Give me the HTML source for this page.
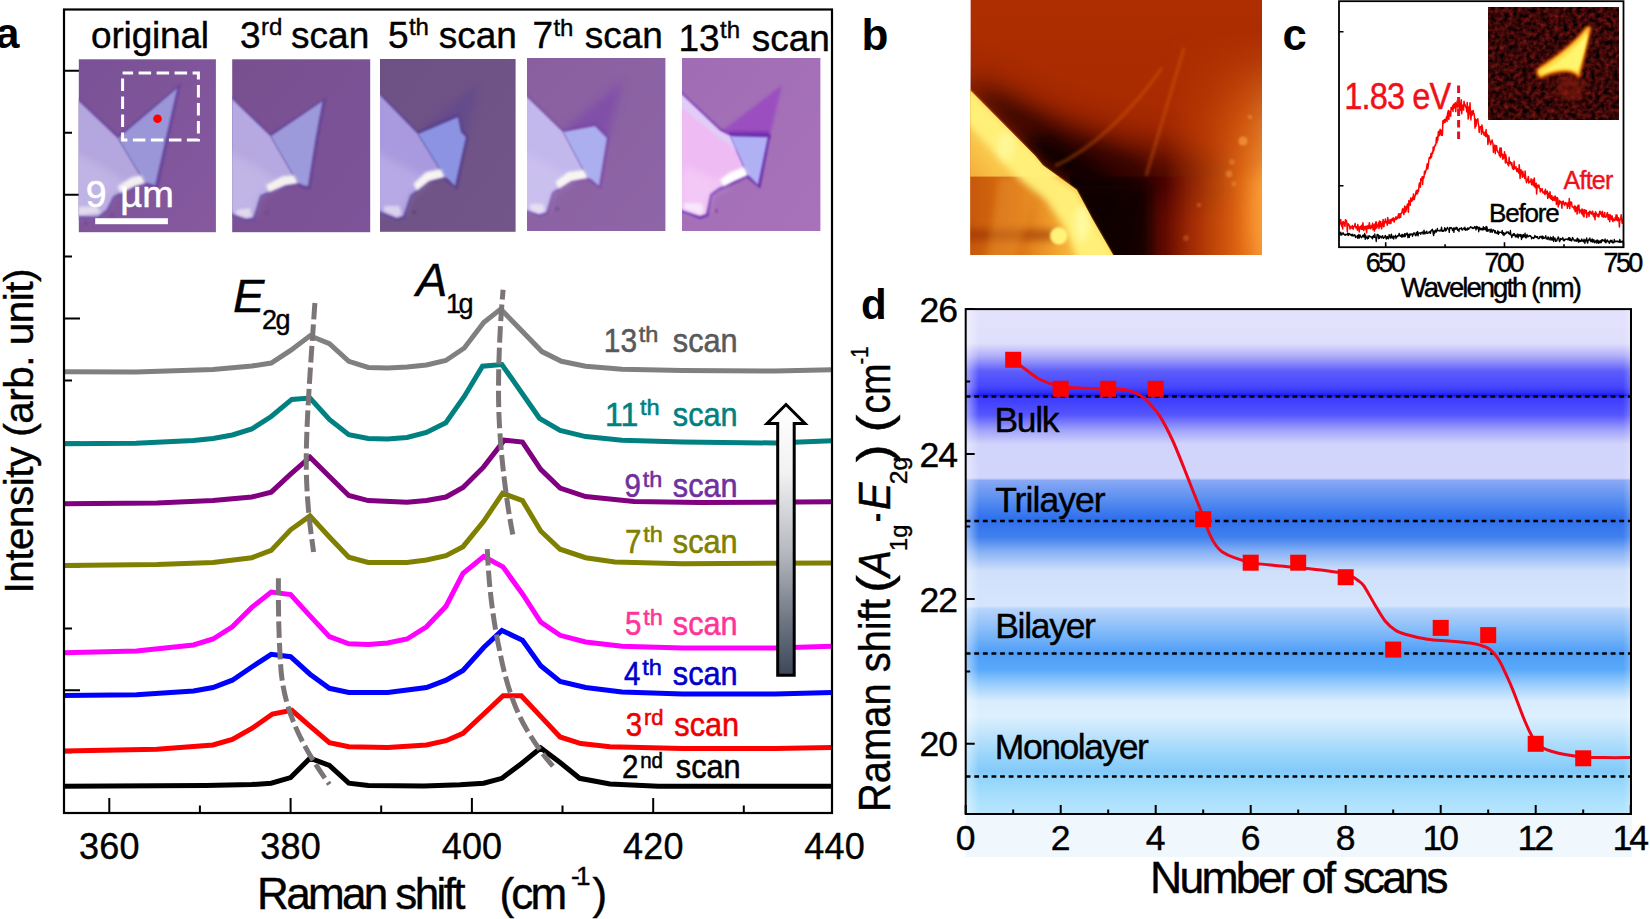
<!DOCTYPE html>
<html lang="en"><head><meta charset="utf-8"><title>Raman layer thinning figure</title>
<style>
html,body{margin:0;padding:0;background:#fff;}
body{width:1650px;height:919px;overflow:hidden;}
svg{display:block;font-family:"Liberation Sans", Arial, sans-serif;}
text{white-space:pre;}
</style></head><body>
<svg width="1650" height="919" viewBox="0 0 1650 919">
<defs>
<linearGradient id="arrG" x1="0" y1="404" x2="0" y2="676" gradientUnits="userSpaceOnUse">
<stop offset="0" stop-color="#ffffff"/><stop offset="0.25" stop-color="#f2f2f3"/><stop offset="0.55" stop-color="#b4b7be"/><stop offset="0.8" stop-color="#6e7582"/><stop offset="1" stop-color="#3a4658"/></linearGradient>
<filter id="blurI" x="-10%" y="-10%" width="120%" height="120%"><feGaussianBlur stdDeviation="0.9"/></filter>
<filter id="blurI2" x="-20%" y="-20%" width="140%" height="140%"><feGaussianBlur stdDeviation="1.6"/></filter>
<filter id="blurI3" x="-20%" y="-20%" width="140%" height="140%"><feGaussianBlur stdDeviation="4"/></filter>
<linearGradient id="afmBase" x1="0" y1="0" x2="0" y2="255" gradientUnits="userSpaceOnUse">
<stop offset="0" stop-color="#ae2e00"/><stop offset="0.35" stop-color="#a92b00"/><stop offset="0.7" stop-color="#a42800"/><stop offset="1" stop-color="#962200"/></linearGradient>
<linearGradient id="afmLow" x1="1070" y1="0" x2="1262" y2="0" gradientUnits="userSpaceOnUse">
<stop offset="0" stop-color="#100000" stop-opacity="0.95"/><stop offset="0.3" stop-color="#1e0100" stop-opacity="0.9"/><stop offset="0.5" stop-color="#4a0600" stop-opacity="0.7"/><stop offset="0.68" stop-color="#701000" stop-opacity="0.4"/><stop offset="0.85" stop-color="#8a2000" stop-opacity="0.1"/><stop offset="1" stop-color="#8a2000" stop-opacity="0"/></linearGradient>
<linearGradient id="afmGlow" x1="1165" y1="0" x2="1262" y2="0" gradientUnits="userSpaceOnUse">
<stop offset="0" stop-color="#d85408" stop-opacity="0"/><stop offset="0.45" stop-color="#dc5a0a" stop-opacity="0.55"/><stop offset="0.8" stop-color="#ea7418" stop-opacity="0.92"/><stop offset="1" stop-color="#f49232" stop-opacity="1"/></linearGradient>
<linearGradient id="mGlowG" x1="0" y1="30" x2="0" y2="265" gradientUnits="userSpaceOnUse">
<stop offset="0" stop-color="#000"/><stop offset="0.12" stop-color="#222"/><stop offset="0.4" stop-color="#aaa"/><stop offset="0.65" stop-color="#fff"/><stop offset="1" stop-color="#fff"/></linearGradient>
<mask id="mGlow" maskUnits="userSpaceOnUse" x="1150" y="30" width="120" height="235"><rect x="1150" y="30" width="120" height="235" fill="url(#mGlowG)"/></mask>
<linearGradient id="afmFlU" x1="1040" y1="120" x2="965" y2="180" gradientUnits="userSpaceOnUse">
<stop offset="0" stop-color="#ffea74"/><stop offset="0.5" stop-color="#fdd458"/><stop offset="1" stop-color="#f2a834"/></linearGradient>
<linearGradient id="afmFlL" x1="1100" y1="0" x2="965" y2="0" gradientUnits="userSpaceOnUse">
<stop offset="0" stop-color="#ffd858"/><stop offset="0.3" stop-color="#f4a832"/><stop offset="0.6" stop-color="#dc7416"/><stop offset="1" stop-color="#c4540c"/></linearGradient>
<filter id="bB05" filterUnits="userSpaceOnUse" x="900" y="-60" width="430" height="380"><feGaussianBlur stdDeviation="0.7"/></filter>
<filter id="bB1" filterUnits="userSpaceOnUse" x="900" y="-60" width="430" height="380"><feGaussianBlur stdDeviation="1.2"/></filter>
<filter id="bB2" filterUnits="userSpaceOnUse" x="900" y="-60" width="430" height="380"><feGaussianBlur stdDeviation="1.8"/></filter>
<filter id="bB3" filterUnits="userSpaceOnUse" x="900" y="-60" width="430" height="380"><feGaussianBlur stdDeviation="3.5"/></filter>
<filter id="bB6" filterUnits="userSpaceOnUse" x="900" y="-60" width="430" height="380"><feGaussianBlur stdDeviation="6"/></filter>
<filter id="bB10" filterUnits="userSpaceOnUse" x="900" y="-60" width="430" height="380"><feGaussianBlur stdDeviation="9"/></filter>
<filter id="bB20" filterUnits="userSpaceOnUse" x="900" y="-60" width="430" height="380"><feGaussianBlur stdDeviation="18"/></filter>
<filter id="noiseC" x="0" y="0" width="100%" height="100%" color-interpolation-filters="sRGB"><feTurbulence type="fractalNoise" baseFrequency="0.22" numOctaves="2" seed="5" result="n"/>
<feColorMatrix in="n" type="matrix" values="0.75 0 0 0 -0.15  0.14 0 0 0 -0.04  0.12 0 0 0 -0.03  0 0 0 0 1"/></filter>
<filter id="bC2" x="-40%" y="-40%" width="180%" height="180%"><feGaussianBlur stdDeviation="1.8"/></filter>
<filter id="bC1" x="-20%" y="-20%" width="140%" height="140%"><feGaussianBlur stdDeviation="0.9"/></filter>
<filter id="bC3" x="-40%" y="-40%" width="180%" height="180%"><feGaussianBlur stdDeviation="3"/></filter>
<linearGradient id="bgD" x1="0" y1="309.1" x2="0" y2="814" gradientUnits="userSpaceOnUse"><stop offset="0.0000" stop-color="#e4e2fb"/><stop offset="0.0671" stop-color="#e0dffb"/><stop offset="0.0929" stop-color="#b0aef9"/><stop offset="0.1226" stop-color="#5e5efb"/><stop offset="0.1543" stop-color="#4646fe"/><stop offset="0.1652" stop-color="#3030f6"/><stop offset="0.1711" stop-color="#1a1ae6"/><stop offset="0.1771" stop-color="#3c3cfd"/><stop offset="0.2097" stop-color="#5656fd"/><stop offset="0.2395" stop-color="#a0a2f9"/><stop offset="0.2672" stop-color="#d0d3fb"/><stop offset="0.3345" stop-color="#d2d6fb"/><stop offset="0.3395" stop-color="#88a8f4"/><stop offset="0.3781" stop-color="#588ef0"/><stop offset="0.4157" stop-color="#2e6fec"/><stop offset="0.4514" stop-color="#4080ee"/><stop offset="0.4811" stop-color="#88b2f5"/><stop offset="0.5187" stop-color="#d0e0fb"/><stop offset="0.5880" stop-color="#d4e5fc"/><stop offset="0.5940" stop-color="#b6d4fb"/><stop offset="0.6356" stop-color="#86bcf9"/><stop offset="0.6811" stop-color="#4e9ef8"/><stop offset="0.7128" stop-color="#58a8fa"/><stop offset="0.7445" stop-color="#9ccffc"/><stop offset="0.7762" stop-color="#d8ecfe"/><stop offset="0.8059" stop-color="#ddf0fe"/><stop offset="0.8435" stop-color="#bee3fc"/><stop offset="0.8831" stop-color="#9ad5fb"/><stop offset="0.9168" stop-color="#82caf9"/><stop offset="0.9307" stop-color="#94d5fb"/><stop offset="0.9624" stop-color="#a6defc"/><stop offset="1.0000" stop-color="#b8e6fe"/></linearGradient><linearGradient id="edgeD" x1="965.7" y1="0" x2="1631" y2="0" gradientUnits="userSpaceOnUse">
<stop offset="0" stop-color="#fff" stop-opacity="0.42"/><stop offset="0.006" stop-color="#fff" stop-opacity="0.34"/><stop offset="0.02" stop-color="#fff" stop-opacity="0"/><stop offset="0.988" stop-color="#fff" stop-opacity="0"/><stop offset="1" stop-color="#fff" stop-opacity="0.22"/></linearGradient>
</defs>
<rect x="0" y="0" width="1650" height="919" fill="#fff"/>
<path d="M64,70.8h16 M64,132.8h8 M64,194.7h16 M64,256.6h8 M64,318.6h16 M64,380.6h8 M64,442.5h16 M64,504.5h8 M64,566.4h16 M64,628.4h8 M64,690.3h16 M64,752.2h8 M109.3,813v-15 M199.9,813v-7.5 M290.6,813v-15 M381.2,813v-7.5 M471.9,813v-15 M562.5,813v-7.5 M653.2,813v-15 M743.8,813v-7.5" stroke="#000" stroke-width="2" fill="none"/>
<clipPath id="clipA"><rect x="64" y="9.5" width="768" height="803.5"/></clipPath>
<g clip-path="url(#clipA)" fill="none" stroke-width="5" stroke-linejoin="miter" stroke-miterlimit="6">
<polyline stroke="#000000" points="63.0,786.3 205.6,785.6 251.8,784.6 271.2,783.2 290.6,777.6 310.0,758.2 329.4,765.4 348.8,783.2 368.2,785.6 424.0,786.0 460.0,784.8 483.7,783.2 501.9,778.3 521.3,763.7 540.7,748.0 560.1,762.5 579.6,778.3 610.0,783.9 658.4,786.3 833.0,786.3"/>
<polyline stroke="#ff0000" points="63.0,750.9 157.0,749.2 213.0,745.0 232.3,739.5 251.8,728.5 272.4,714.0 291.8,710.3 310.0,726.1 329.4,742.6 348.8,746.7 387.7,747.5 426.5,745.0 446.0,740.7 463.0,733.4 483.7,714.0 503.1,695.8 521.3,695.8 540.7,716.4 560.1,737.0 580.8,743.6 610.0,746.7 682.7,748.4 775.0,748.6 833.0,747.5"/>
<polyline stroke="#0000ff" points="63.0,695.5 136.5,694.8 193.5,691.0 213.0,687.5 232.3,680.2 251.8,667.0 271.2,654.3 290.6,656.7 310.0,674.2 329.4,688.3 348.8,692.4 387.7,692.4 426.5,687.5 446.0,680.2 463.0,670.5 483.7,647.5 501.9,630.5 522.5,640.2 540.7,665.7 560.1,681.5 585.6,687.5 622.0,691.9 682.7,694.0 775.0,694.0 833.0,692.6"/>
<polyline stroke="#ff00ff" points="63.0,652.8 136.5,651.0 193.5,645.0 213.0,639.0 232.3,626.8 251.8,607.4 271.2,592.1 290.6,594.6 310.0,615.9 329.4,636.6 348.8,643.8 368.2,644.6 387.6,643.0 407.0,639.0 426.5,626.8 446.0,606.2 463.0,573.4 483.7,556.5 503.0,566.9 522.5,594.0 540.7,622.0 560.1,635.3 585.6,642.0 622.0,646.3 682.7,648.0 775.0,648.0 833.0,646.3"/>
<polyline stroke="#808000" points="63.0,565.4 157.0,564.5 213.0,562.5 251.8,557.7 271.2,550.4 290.6,529.8 310.0,515.9 329.4,537.0 348.8,557.2 368.2,562.5 407.0,562.5 426.5,560.0 446.0,555.7 463.0,546.7 483.7,521.3 502.6,493.3 522.5,500.6 540.7,531.0 560.1,549.2 585.6,557.7 614.8,562.0 682.7,563.7 833.0,563.0"/>
<polyline stroke="#800080" points="63.0,503.8 157.0,503.0 213.0,500.6 251.8,497.0 271.2,492.2 290.6,474.2 310.0,457.2 329.4,476.6 348.8,495.5 368.2,500.6 407.0,502.3 426.5,500.5 446.0,497.0 463.0,487.5 483.7,466.9 504.3,440.2 522.5,442.1 540.7,469.3 560.1,488.0 585.6,496.5 634.0,501.4 700.0,502.5 833.0,501.8"/>
<polyline stroke="#008080" points="63.0,443.8 136.0,443.2 193.5,440.5 213.0,438.5 232.4,435.0 251.8,429.0 271.2,416.5 291.8,399.4 310.0,398.0 329.4,419.5 348.8,434.6 368.2,438.5 387.6,439.0 407.0,437.5 426.4,432.4 445.8,422.7 464.3,396.5 482.5,366.2 501.9,364.5 539.5,418.3 560.1,430.5 585.6,436.6 622.0,440.2 682.7,442.1 775.0,443.0 833.0,440.7"/>
<polyline stroke="#808080" points="63.0,371.7 136.0,372.0 213.0,369.5 251.8,366.0 271.2,363.0 290.6,350.4 310.0,335.8 329.4,343.6 348.8,361.3 368.2,367.4 387.6,368.0 407.0,367.0 426.5,365.0 445.8,360.5 464.3,348.0 483.7,322.5 500.7,309.1 541.9,351.6 561.4,361.3 585.6,366.2 622.0,369.3 682.7,370.5 775.0,371.0 833.0,369.8"/>
</g>
<g fill="none" stroke="#7b7577" stroke-width="5" stroke-dasharray="16.5 5">
<path d="M314.9,303 C311,360 305.5,430 306.3,470 C307,505 310.5,530 313.6,552"/>
<path d="M278.4,578.3 C278.2,610 278.8,640 281,670 C284,705 297,740 329.4,784.4"/>
<path stroke-dashoffset="6.5" d="M503.1,289.7 C499.5,330 497.8,375 498.8,410 C500,450 506,500 512.8,534.6"/>
<path d="M487.3,549.2 C488.5,580 492,615 499.5,650 C506,685 516,712 527,730 C536,745 544,756 552.9,766.2"/>
</g>
<rect x="64" y="9.5" width="768" height="803.5" fill="none" stroke="#000" stroke-width="2.2"/>
<text x="109.3" y="858.5" font-size="36" fill="#000" text-anchor="middle" textLength="60.5" lengthAdjust="spacing" stroke="#000" stroke-width="0.4" >360</text>
<text x="290.6" y="858.5" font-size="36" fill="#000" text-anchor="middle" textLength="60.5" lengthAdjust="spacing" stroke="#000" stroke-width="0.4" >380</text>
<text x="471.9" y="858.5" font-size="36" fill="#000" text-anchor="middle" textLength="60.5" lengthAdjust="spacing" stroke="#000" stroke-width="0.4" >400</text>
<text x="653.2" y="858.5" font-size="36" fill="#000" text-anchor="middle" textLength="60.5" lengthAdjust="spacing" stroke="#000" stroke-width="0.4" >420</text>
<text x="834.5" y="858.5" font-size="36" fill="#000" text-anchor="middle" textLength="60.5" lengthAdjust="spacing" stroke="#000" stroke-width="0.4" >440</text>
<text x="257.0" y="908.8" font-size="44" fill="#000" textLength="208.5" lengthAdjust="spacing" stroke="#000" stroke-width="0.4" >Raman shift</text>
<text x="499.6" y="908.8" font-size="44" fill="#000" textLength="67.5" lengthAdjust="spacing" stroke="#000" stroke-width="0.4" >(cm</text>
<text x="570.9" y="884.5" font-size="26" fill="#000" textLength="19.5" lengthAdjust="spacing" stroke="#000" stroke-width="0.4" >-1</text>
<text x="592.5" y="908.8" font-size="44" fill="#000" stroke="#000" stroke-width="0.4" >)</text>
<g transform="translate(33,593.5) rotate(-90)"><text x="0.0" y="0.0" font-size="40.5" fill="#000" textLength="325.0" lengthAdjust="spacing" stroke="#000" stroke-width="0.4" >Intensity (arb. unit)</text></g>
<text x="233.0" y="312.2" font-size="47" fill="#000" font-style="italic" stroke="#000" stroke-width="0.4" >E</text>
<text x="262.0" y="328.7" font-size="27" fill="#000" textLength="28.5" lengthAdjust="spacing" stroke="#000" stroke-width="0.4" >2g</text>
<text x="416.0" y="296.4" font-size="47" fill="#000" font-style="italic" stroke="#000" stroke-width="0.4" >A</text>
<text x="446.0" y="312.8" font-size="27" fill="#000" textLength="27.5" lengthAdjust="spacing" stroke="#000" stroke-width="0.4" >1g</text>
<text x="603.8" y="352.3" font-size="32.8" fill="#595959" textLength="33.2" lengthAdjust="spacingAndGlyphs" stroke="#595959" stroke-width="0.55">13</text>
<text x="638.8" y="341.9" font-size="22.5" fill="#595959" textLength="19.6" lengthAdjust="spacingAndGlyphs" stroke="#595959" stroke-width="0.55">th</text>
<text x="672.8" y="352.3" font-size="32.8" fill="#595959" textLength="64.8" lengthAdjust="spacingAndGlyphs" stroke="#595959" stroke-width="0.55">scan</text>
<text x="605.0" y="425.6" font-size="32.8" fill="#008080" textLength="33.2" lengthAdjust="spacingAndGlyphs" stroke="#008080" stroke-width="0.55">11</text>
<text x="640.0" y="415.2" font-size="22.5" fill="#008080" textLength="19.6" lengthAdjust="spacingAndGlyphs" stroke="#008080" stroke-width="0.55">th</text>
<text x="672.8" y="425.6" font-size="32.8" fill="#008080" textLength="64.8" lengthAdjust="spacingAndGlyphs" stroke="#008080" stroke-width="0.55">scan</text>
<text x="624.5" y="497.2" font-size="32.8" fill="#7030a0" textLength="16.4" lengthAdjust="spacingAndGlyphs" stroke="#7030a0" stroke-width="0.55">9</text>
<text x="642.7" y="486.8" font-size="22.5" fill="#7030a0" textLength="19.6" lengthAdjust="spacingAndGlyphs" stroke="#7030a0" stroke-width="0.55">th</text>
<text x="672.8" y="497.2" font-size="32.8" fill="#7030a0" textLength="64.8" lengthAdjust="spacingAndGlyphs" stroke="#7030a0" stroke-width="0.55">scan</text>
<text x="625.0" y="552.8" font-size="32.8" fill="#808000" textLength="16.4" lengthAdjust="spacingAndGlyphs" stroke="#808000" stroke-width="0.55">7</text>
<text x="643.2" y="542.4" font-size="22.5" fill="#808000" textLength="19.6" lengthAdjust="spacingAndGlyphs" stroke="#808000" stroke-width="0.55">th</text>
<text x="672.8" y="552.8" font-size="32.8" fill="#808000" textLength="64.8" lengthAdjust="spacingAndGlyphs" stroke="#808000" stroke-width="0.55">scan</text>
<text x="625.0" y="635.3" font-size="32.8" fill="#ff3399" textLength="16.4" lengthAdjust="spacingAndGlyphs" stroke="#ff3399" stroke-width="0.55">5</text>
<text x="643.2" y="624.9" font-size="22.5" fill="#ff3399" textLength="19.6" lengthAdjust="spacingAndGlyphs" stroke="#ff3399" stroke-width="0.55">th</text>
<text x="672.8" y="635.3" font-size="32.8" fill="#ff3399" textLength="64.8" lengthAdjust="spacingAndGlyphs" stroke="#ff3399" stroke-width="0.55">scan</text>
<text x="624.0" y="685.0" font-size="32.8" fill="#0000cd" textLength="16.4" lengthAdjust="spacingAndGlyphs" stroke="#0000cd" stroke-width="0.55">4</text>
<text x="642.2" y="674.6" font-size="22.5" fill="#0000cd" textLength="19.6" lengthAdjust="spacingAndGlyphs" stroke="#0000cd" stroke-width="0.55">th</text>
<text x="672.8" y="685.0" font-size="32.8" fill="#0000cd" textLength="64.8" lengthAdjust="spacingAndGlyphs" stroke="#0000cd" stroke-width="0.55">scan</text>
<text x="625.7" y="735.8" font-size="32.8" fill="#ee0000" textLength="16.4" lengthAdjust="spacingAndGlyphs" stroke="#ee0000" stroke-width="0.55">3</text>
<text x="643.9" y="725.4" font-size="22.5" fill="#ee0000" textLength="19.6" lengthAdjust="spacingAndGlyphs" stroke="#ee0000" stroke-width="0.55">rd</text>
<text x="674.3" y="735.8" font-size="32.8" fill="#ee0000" textLength="64.8" lengthAdjust="spacingAndGlyphs" stroke="#ee0000" stroke-width="0.55">scan</text>
<text x="622.0" y="778.3" font-size="32.8" fill="#000000" textLength="16.4" lengthAdjust="spacingAndGlyphs" stroke="#000000" stroke-width="0.55">2</text>
<text x="640.2" y="767.9" font-size="22.5" fill="#000000" textLength="22.8" lengthAdjust="spacingAndGlyphs" stroke="#000000" stroke-width="0.55">nd</text>
<text x="675.8" y="778.3" font-size="32.8" fill="#000000" textLength="64.8" lengthAdjust="spacingAndGlyphs" stroke="#000000" stroke-width="0.55">scan</text>
<path d="M786,404.5 L805,423.5 L794.2,423.5 L794.2,675.2 L777.7,675.2 L777.7,423.5 L767,423.5 Z" fill="url(#arrG)" stroke="#000" stroke-width="3" stroke-linejoin="miter"/>
<clipPath id="ci1"><rect x="78.8" y="59.3" width="137.10000000000002" height="172.89999999999998"/></clipPath>
<linearGradient id="bgI1" x1="0" y1="0" x2="1" y2="1"><stop offset="0" stop-color="#7a5196"/><stop offset="1" stop-color="#86599f"/></linearGradient>
<rect x="78.8" y="59.3" width="137.10000000000002" height="172.89999999999998" fill="url(#bgI1)"/>
<g clip-path="url(#ci1)">
<polygon points="70.0,91.0 118.0,135.5 181.0,83.0 158.0,188.5 144.0,185.5 136.0,188.0 115.0,198.5 108.5,212.0 98.5,219.5 70.0,218.5" fill="#62409a" opacity="0.8" filter="url(#blurI)" />
<polygon points="70.0,93.0 78.8,101.0 118.0,138.2 144.4,182.3 134.6,185.2 113.1,196.0 106.2,209.7 97.4,216.6 78.8,215.6 70.0,215.0" fill="#b4a6de" opacity="1" filter="url(#blurI)" />
<polygon points="70.0,150.0 100.0,165.0 130.0,184.0 113.0,195.0 106.0,209.0 97.0,216.0 70.0,215.0" fill="#c9bfea" opacity="0.55" filter="url(#blurI3)" />
<polygon points="118.0,138.2 177.3,87.9 155.2,185.2 144.4,182.3" fill="#9a96d8" opacity="1" filter="url(#blurI)" />
<polygon points="145.4,183.3 134.6,186.2 120.6,193.2 117.6,186.2 131.6,177.2 141.4,175.3" fill="#f6f3f2" opacity="0.95" filter="url(#blurI2)" />
<polygon points="78.0,207.0 96.0,206.0 101.0,213.0 78.0,215.5" fill="#eeeaf0" opacity="0.75" filter="url(#blurI2)" />
<polygon points="84.0,221.0 88.0,221.0 88.0,225.0 84.0,225.0" fill="#6a4590" opacity="0.5" filter="url(#blurI)" />
<polygon points="110.0,213.0 114.0,213.0 114.0,217.0 110.0,217.0" fill="#6a4590" opacity="0.5" filter="url(#blurI)" />

</g>
<clipPath id="ci2"><rect x="232.2" y="59.3" width="138.0" height="172.89999999999998"/></clipPath>
<linearGradient id="bgI2" x1="0" y1="0" x2="1" y2="1"><stop offset="0" stop-color="#78508f"/><stop offset="1" stop-color="#7d5399"/></linearGradient>
<rect x="232.2" y="59.3" width="138.0" height="172.89999999999998" fill="url(#bgI2)"/>
<g clip-path="url(#ci2)">
<polygon points="224.0,89.0 270.7,133.6 326.5,97.0 318.5,138.5 310.5,189.5 302.0,188.5 297.0,185.5 286.0,187.5 262.0,197.5 255.3,220.5 246.3,221.5 224.0,214.0" fill="#62409a" opacity="0.8" filter="url(#blurI)" />
<polygon points="224.0,91.0 232.2,99.0 270.7,136.3 297.2,182.3 285.4,184.3 260.0,195.0 253.1,217.6 246.3,218.5 232.2,213.6 224.0,211.0" fill="#b6a8e0" opacity="1" filter="url(#blurI)" />
<polygon points="224.0,150.0 255.0,165.0 282.0,184.0 260.0,195.0 253.0,217.0 232.0,213.0 224.0,211.0" fill="#cbc1ec" opacity="0.5" filter="url(#blurI3)" />
<polygon points="270.7,136.3 322.6,101.0 315.8,137.3 308.0,186.2 303.0,185.2 297.2,182.3" fill="#9c9adb" opacity="1" filter="url(#blurI)" />
<polygon points="298.2,183.3 285.4,185.3 268.9,192.3 265.9,185.3 282.4,176.3 294.2,175.3" fill="#f8f5f1" opacity="0.95" filter="url(#blurI2)" />
<polygon points="236.0,210.0 250.0,208.0 252.0,216.5 246.0,218.0 236.0,214.5" fill="#efeaf2" opacity="0.7" filter="url(#blurI2)" />
<polygon points="265.0,211.0 269.0,211.0 269.0,215.0 265.0,215.0" fill="#6a4590" opacity="0.5" filter="url(#blurI)" />

</g>
<clipPath id="ci3"><rect x="380" y="59" width="135.60000000000002" height="172.8"/></clipPath>
<linearGradient id="bgI3" x1="0" y1="0" x2="1" y2="1"><stop offset="0" stop-color="#6d5184"/><stop offset="1" stop-color="#725589"/></linearGradient>
<rect x="380" y="59" width="135.60000000000002" height="172.8" fill="url(#bgI3)"/>
<g clip-path="url(#ci3)">
<polygon points="418.0,132.0 479.0,82.0 466.0,138.0" fill="#5a4490" opacity="0.5" filter="url(#blurI3)" />
<polygon points="372.0,85.0 418.0,131.2 458.5,113.5 463.5,130.5 468.8,136.5 457.5,189.5 448.0,183.0 444.0,179.5 430.0,183.0 412.0,197.5 405.5,219.0 397.0,221.0 372.0,211.0" fill="#553c8c" opacity="0.8" filter="url(#blurI)" />
<polygon points="372.0,87.0 380.0,95.0 418.0,134.0 444.0,176.0 429.0,180.0 410.0,195.0 403.0,216.0 397.0,218.0 380.0,211.0 372.0,208.0" fill="#a999de" opacity="1" filter="url(#blurI)" />
<polygon points="372.0,150.0 402.0,165.0 430.0,180.0 410.0,195.0 403.0,216.0 380.0,211.0 372.0,208.0" fill="#c3b9ec" opacity="0.5" filter="url(#blurI3)" />
<polygon points="418.0,134.0 458.0,117.0 461.0,132.0 466.0,137.0 455.0,186.0 449.0,180.0 444.0,176.0" fill="#8b93e2" opacity="1" filter="url(#blurI)" />
<polygon points="445.0,177.0 429.0,181.0 416.6,190.8 413.6,183.8 426.0,172.0 441.0,169.0" fill="#faf7f2" opacity="0.97" filter="url(#blurI2)" />
<polygon points="384.0,206.0 399.0,206.0 402.0,214.0 397.0,217.0 384.0,211.5" fill="#ece6f2" opacity="0.7" filter="url(#blurI2)" />
<polygon points="412.0,210.0 416.0,210.0 416.0,214.0 412.0,214.0" fill="#594078" opacity="0.6" filter="url(#blurI)" />

</g>
<clipPath id="ci4"><rect x="527" y="58" width="138.39999999999998" height="173"/></clipPath>
<linearGradient id="bgI4" x1="0" y1="0" x2="1" y2="1"><stop offset="0" stop-color="#895fa0"/><stop offset="1" stop-color="#8e65a6"/></linearGradient>
<rect x="527" y="58" width="138.39999999999998" height="173" fill="url(#bgI4)"/>
<g clip-path="url(#ci4)">
<polygon points="563.0,131.0 623.0,80.0 607.5,139.0" fill="#7a44ac" opacity="0.62" filter="url(#blurI3)" />
<polygon points="519.0,87.0 563.0,129.5 595.5,123.0 609.5,137.0 601.0,189.0 592.0,183.0 587.0,180.0 572.0,183.0 554.0,194.0 548.3,214.5 539.0,217.0 519.0,209.5" fill="#7444a4" opacity="0.7" filter="url(#blurI)" />
<polygon points="519.0,89.0 527.0,97.0 563.0,132.0 587.0,177.0 571.0,180.0 552.0,192.0 546.0,212.0 539.0,214.0 527.0,210.0 519.0,207.0" fill="#c3b8ec" opacity="1" filter="url(#blurI)" />
<polygon points="519.0,150.0 548.0,165.0 573.0,180.0 552.0,192.0 546.0,212.0 527.0,210.0 519.0,207.0" fill="#d2c8f0" opacity="0.5" filter="url(#blurI3)" />
<polygon points="563.0,132.0 595.0,126.0 607.0,138.0 599.0,186.0 592.0,180.0 587.0,177.0" fill="#abaeef" opacity="1" filter="url(#blurI)" />
<polygon points="588.0,178.0 571.0,181.0 558.6,188.8 555.6,181.8 568.0,172.0 584.0,170.0" fill="#fbf8f2" opacity="0.97" filter="url(#blurI2)" />
<polygon points="530.0,204.0 543.0,204.0 545.0,211.0 539.0,213.5 530.0,209.5" fill="#f0eaf4" opacity="0.75" filter="url(#blurI2)" />
<polygon points="555.0,207.0 559.0,207.0 559.0,211.0 555.0,211.0" fill="#6e4c88" opacity="0.6" filter="url(#blurI)" />

</g>
<clipPath id="ci5"><rect x="682" y="58" width="138.39999999999998" height="173"/></clipPath>
<linearGradient id="bgI5" x1="0" y1="0" x2="1" y2="1"><stop offset="0" stop-color="#a06db4"/><stop offset="1" stop-color="#a872ba"/></linearGradient>
<rect x="682" y="58" width="138.39999999999998" height="173" fill="url(#bgI5)"/>
<g clip-path="url(#ci5)">
<polygon points="722.0,131.0 782.0,85.0 769.0,139.0" fill="#9a48c2" opacity="0.85" filter="url(#blurI2)" />
<polygon points="728.0,131.0 769.0,131.0 769.0,139.0 730.0,139.0" fill="#7a2eb0" opacity="0.7" filter="url(#blurI2)" />
<polygon points="674.0,85.0 720.0,128.5 730.0,133.5 770.5,134.5 760.2,188.5 750.0,180.0 747.0,177.5 719.0,191.0 712.0,196.0 708.3,216.5 700.0,219.0 674.0,209.5" fill="#5c22a8" opacity="0.85" filter="url(#blurI)" />
<polygon points="674.0,87.0 682.0,95.0 720.0,131.0 730.0,136.0 747.0,174.0 718.0,188.0 710.0,194.0 706.0,214.0 700.0,216.0 682.0,210.0 674.0,207.0" fill="#eebbf3" opacity="1" filter="url(#blurI)" />
<polygon points="674.0,87.0 682.0,95.0 720.0,131.0 730.0,136.0 738.0,152.0 712.0,132.0 682.0,108.0 674.0,102.0" fill="#dcd4fb" opacity="0.75" filter="url(#blurI2)" />
<polygon points="682.0,165.0 706.0,176.0 730.0,183.0 710.0,194.0 706.0,214.0 682.0,210.0" fill="#f6d2f8" opacity="0.6" filter="url(#blurI3)" />
<polygon points="730.0,136.0 768.0,137.0 758.0,185.0 750.0,177.0 747.0,174.0" fill="#b0b0f5" opacity="1" filter="url(#blurI)" />
<polygon points="748.0,175.0 733.0,181.5 723.2,186.4 720.2,179.4 730.0,172.5 744.0,167.0" fill="#ffffff" opacity="1" filter="url(#blurI2)" />
<polygon points="684.0,203.0 702.0,203.5 704.0,211.5 700.0,214.5 684.0,208.5" fill="#f8f0fc" opacity="0.8" filter="url(#blurI2)" />
<polygon points="715.0,209.0 718.0,209.0 718.0,213.0 715.0,213.0" fill="#7c3c9c" opacity="0.6" filter="url(#blurI)" />

</g>
<rect x="122.6" y="72.9" width="75.8" height="67.2" fill="none" stroke="#fff" stroke-width="3" stroke-dasharray="12.5 5.5" stroke-dashoffset="2"/>
<circle cx="157.5" cy="118.8" r="4.3" fill="#ff0000"/>
<text x="85.8" y="207.3" font-size="37.5" fill="#fff" stroke="#fff" stroke-width="0.5">9</text>
<text x="120.3" y="207.3" font-size="37.5" fill="#fff" textLength="53.5" lengthAdjust="spacingAndGlyphs" stroke="#fff" stroke-width="0.5">µm</text>
<rect x="95.2" y="218.2" width="72.7" height="6" fill="#fff"/>
<text x="91.1" y="47.6" font-size="37" fill="#000" textLength="118.0" lengthAdjust="spacing" stroke="#000" stroke-width="0.4" >original</text>
<text x="240.0" y="47.8" font-size="37" fill="#000" stroke="#000" stroke-width="0.4" >3</text>
<text x="260.9" y="35.2" font-size="24" fill="#000" stroke="#000" stroke-width="0.4" >rd</text>
<text x="291.1" y="47.8" font-size="37" fill="#000" stroke="#000" stroke-width="0.4" >scan</text>
<text x="388.0" y="48.0" font-size="37" fill="#000" stroke="#000" stroke-width="0.4" >5</text>
<text x="408.9" y="35.4" font-size="24" fill="#000" stroke="#000" stroke-width="0.4" >th</text>
<text x="438.8" y="48.0" font-size="37" fill="#000" stroke="#000" stroke-width="0.4" >scan</text>
<text x="532.5" y="48.3" font-size="37" fill="#000" stroke="#000" stroke-width="0.4" >7</text>
<text x="553.4" y="35.7" font-size="24" fill="#000" stroke="#000" stroke-width="0.4" >th</text>
<text x="584.8" y="48.3" font-size="37" fill="#000" stroke="#000" stroke-width="0.4" >scan</text>
<text x="678.5" y="51.0" font-size="37" fill="#000" stroke="#000" stroke-width="0.4" >13</text>
<text x="720.0" y="38.4" font-size="24" fill="#000" stroke="#000" stroke-width="0.4" >th</text>
<text x="751.8" y="51.0" font-size="37" fill="#000" stroke="#000" stroke-width="0.4" >scan</text>
<text x="-4.5" y="47.8" font-size="43" fill="#000" font-weight="bold" >a</text>
<clipPath id="cB"><rect x="970.4" y="0" width="291.6" height="255"/></clipPath>
<g clip-path="url(#cB)">
<rect x="970.4" y="0" width="291.6" height="255" fill="url(#afmBase)"/>
<polygon points="955,70 1000,92 1050,118 1110,138 1170,150 1230,170 1262,180 1262,200 1080,200 1040,170 1030,156" fill="#3a0600" opacity="0.8" filter="url(#bB20)"/>
<polygon points="965,84 1036,152 1046,164 1082,190 1175,192 1135,158 1065,130 1000,96" fill="#1a0100" opacity="0.62" filter="url(#bB10)"/>
<polygon points="1022,140 1036,152 1046,164 1082,190 1125,190 1090,163 1050,138" fill="#0c0000" opacity="0.85" filter="url(#bB6)"/>
<rect x="1070" y="176.6" width="200" height="84" fill="url(#afmLow)" filter="url(#bB05)"/>
<polygon points="1075,185 1150,185 1150,262 1100,262" fill="#0a0000" opacity="0.85" filter="url(#bB6)"/>
<rect x="1150" y="30" width="120" height="235" fill="url(#afmGlow)" mask="url(#mGlow)"/>
<ellipse cx="1266" cy="215" rx="16" ry="42" fill="#ffa238" opacity="0.55" filter="url(#bB10)"/>
<path d="M1055,166 C1090,150 1128,116 1162,68" stroke="#d8600e" stroke-width="3.4" fill="none" opacity="0.4" filter="url(#bB2)"/>
<path d="M1184,48 C1172,88 1160,128 1146,176" stroke="#d8600e" stroke-width="3.4" fill="none" opacity="0.4" filter="url(#bB2)"/>
<path d="M1145,178 L1132,252" stroke="#200000" stroke-width="2.2" fill="none" opacity="0.35" filter="url(#bB2)"/>
<circle cx="1243" cy="141" r="4.6" fill="#ffb050" opacity="0.55" filter="url(#bB1)"/>
<circle cx="1232" cy="162" r="2.8" fill="#ffb050" opacity="0.35" filter="url(#bB1)"/>
<circle cx="1229" cy="174" r="3.4" fill="#ffb050" opacity="0.4" filter="url(#bB1)"/>
<circle cx="1234" cy="184" r="2.4" fill="#ffb050" opacity="0.35" filter="url(#bB1)"/>
<circle cx="1250" cy="117" r="2.2" fill="#ffb050" opacity="0.4" filter="url(#bB1)"/>
<circle cx="1199" cy="205" r="2.2" fill="#ffb050" opacity="0.3" filter="url(#bB1)"/>
<circle cx="1186" cy="238" r="3" fill="#ffb050" opacity="0.25" filter="url(#bB1)"/>
<polygon points="955,75 970.4,90.3 1035.3,155.9 1042.8,165.3 1076.7,189.8 1091.8,218 1116,260 955,260" fill="#e88a1c" filter="url(#bB1)"/>
<clipPath id="cFl"><polygon points="955,75 970.4,90.3 1035.3,155.9 1042.8,165.3 1076.7,189.8 1091.8,218 1116,260 955,260"/></clipPath>
<g clip-path="url(#cFl)">
<polygon points="955,75 1040,160 1060,177 955,177" fill="url(#afmFlU)"/>
<rect x="955" y="176.6" width="170" height="90" fill="url(#afmFlL)" filter="url(#bB05)"/>
<rect x="955" y="229" width="98" height="12" fill="#8e2c02" opacity="0.5" filter="url(#bB3)"/>
<polygon points="1000,177 1040,177 1015,262 985,262" fill="#f0a030" opacity="0.35" filter="url(#bB3)"/>
<polygon points="962,84 1035,156 1043,166 1077,190 1092,218 1116,260 1078,260 1064,226 1046,200 1018,178 985,142 962,118" fill="#fff27c" opacity="0.95" filter="url(#bB3)"/>
<ellipse cx="1006" cy="146" rx="9" ry="15" fill="#fff79a" opacity="0.9" filter="url(#bB3)"/>
<ellipse cx="1082" cy="224" rx="8" ry="18" fill="#fffaa0" opacity="0.95" filter="url(#bB3)"/>
</g>
<circle cx="1058.8" cy="235.9" r="8.6" fill="#fff37a" filter="url(#bB1)"/>
</g>
<text x="861.5" y="50.0" font-size="44" fill="#000" font-weight="bold" >b</text>
<clipPath id="cC"><rect x="1339" y="1.2" width="284.5" height="246.0"/></clipPath>
<g clip-path="url(#cC)" fill="none" stroke-linejoin="round">
<polyline points="1339.0,234.0 1339.5,232.9 1339.9,233.5 1340.4,235.0 1340.8,232.1 1341.3,234.4 1341.8,235.1 1342.2,233.6 1342.7,233.6 1343.1,232.6 1343.6,234.3 1344.1,234.1 1344.5,235.1 1345.0,234.5 1345.4,235.2 1345.9,234.2 1346.4,234.4 1346.8,234.8 1347.3,234.5 1347.7,233.0 1348.2,235.5 1348.7,235.2 1349.1,233.5 1349.6,233.8 1350.0,234.3 1350.5,235.0 1350.9,234.3 1351.4,234.9 1351.9,235.9 1352.3,234.2 1352.8,235.8 1353.2,234.8 1353.7,236.0 1354.2,235.7 1354.6,234.7 1355.1,235.0 1355.5,237.5 1356.0,236.9 1356.5,236.5 1356.9,236.7 1357.4,235.4 1357.8,238.3 1358.3,237.1 1358.8,234.5 1359.2,238.2 1359.7,236.9 1360.1,234.9 1360.6,236.5 1361.1,237.0 1361.5,237.8 1362.0,237.1 1362.4,235.8 1362.9,235.1 1363.4,236.9 1363.8,235.0 1364.3,237.1 1364.7,233.4 1365.2,239.3 1365.7,235.3 1366.1,236.8 1366.6,237.3 1367.0,238.5 1367.5,238.9 1368.0,236.0 1368.4,238.4 1368.9,237.1 1369.3,235.8 1369.8,236.1 1370.3,236.3 1370.7,236.9 1371.2,237.0 1371.6,237.9 1372.1,236.6 1372.6,238.9 1373.0,236.7 1373.5,235.4 1373.9,237.2 1374.4,237.3 1374.8,234.0 1375.3,237.3 1375.8,237.3 1376.2,241.5 1376.7,237.8 1377.1,234.5 1377.6,235.2 1378.1,234.5 1378.5,238.7 1379.0,235.7 1379.4,238.3 1379.9,236.0 1380.4,236.4 1380.8,236.4 1381.3,238.1 1381.7,237.2 1382.2,236.1 1382.7,235.7 1383.1,238.2 1383.6,238.4 1384.0,237.6 1384.5,237.4 1385.0,235.9 1385.4,235.5 1385.9,237.5 1386.3,239.1 1386.8,238.0 1387.3,236.3 1387.7,238.2 1388.2,238.9 1388.6,238.5 1389.1,234.6 1389.6,236.4 1390.0,236.6 1390.5,238.2 1390.9,235.0 1391.4,234.1 1391.9,237.8 1392.3,237.3 1392.8,238.2 1393.2,235.9 1393.7,239.1 1394.2,236.7 1394.6,236.9 1395.1,236.5 1395.5,235.1 1396.0,238.7 1396.5,236.7 1396.9,236.6 1397.4,235.7 1397.8,236.7 1398.3,235.4 1398.7,235.0 1399.2,233.3 1399.7,235.4 1400.1,236.3 1400.6,236.2 1401.0,235.2 1401.5,237.1 1402.0,234.5 1402.4,234.4 1402.9,237.1 1403.3,235.4 1403.8,234.8 1404.3,236.6 1404.7,233.6 1405.2,236.6 1405.6,233.9 1406.1,234.9 1406.6,234.6 1407.0,233.0 1407.5,233.6 1407.9,237.7 1408.4,234.6 1408.9,234.5 1409.3,237.4 1409.8,233.9 1410.2,235.4 1410.7,234.0 1411.2,234.6 1411.6,234.1 1412.1,233.7 1412.5,236.3 1413.0,234.9 1413.5,234.0 1413.9,232.6 1414.4,233.6 1414.8,233.9 1415.3,235.5 1415.8,235.8 1416.2,232.6 1416.7,232.4 1417.1,234.8 1417.6,231.4 1418.1,235.9 1418.5,233.1 1419.0,233.0 1419.4,232.9 1419.9,233.0 1420.4,232.8 1420.8,234.4 1421.3,232.4 1421.7,232.5 1422.2,232.5 1422.6,232.0 1423.1,234.1 1423.6,233.6 1424.0,230.1 1424.5,232.7 1424.9,234.1 1425.4,232.1 1425.9,232.1 1426.3,233.1 1426.8,231.2 1427.2,233.5 1427.7,233.3 1428.2,233.1 1428.6,232.8 1429.1,231.7 1429.5,232.8 1430.0,231.7 1430.5,233.4 1430.9,230.5 1431.4,230.2 1431.8,230.8 1432.3,229.2 1432.8,230.8 1433.2,234.0 1433.7,235.7 1434.1,230.8 1434.6,233.2 1435.1,231.7 1435.5,229.9 1436.0,230.4 1436.4,232.1 1436.9,231.0 1437.4,228.3 1437.8,230.7 1438.3,230.7 1438.7,230.7 1439.2,231.1 1439.7,230.8 1440.1,230.0 1440.6,230.2 1441.0,231.2 1441.5,227.2 1442.0,230.1 1442.4,231.4 1442.9,230.7 1443.3,231.4 1443.8,230.0 1444.3,230.0 1444.7,227.7 1445.2,231.2 1445.6,228.7 1446.1,230.6 1446.5,229.8 1447.0,228.4 1447.5,227.4 1447.9,228.8 1448.4,228.8 1448.8,229.4 1449.3,232.4 1449.8,227.4 1450.2,228.4 1450.7,228.0 1451.1,227.5 1451.6,228.2 1452.1,228.9 1452.5,230.6 1453.0,229.4 1453.4,228.0 1453.9,232.3 1454.4,228.3 1454.8,227.9 1455.3,229.0 1455.7,229.2 1456.2,227.1 1456.7,229.1 1457.1,227.7 1457.6,230.3 1458.0,229.3 1458.5,229.4 1459.0,231.7 1459.4,228.5 1459.9,228.6 1460.3,228.8 1460.8,228.4 1461.3,227.6 1461.7,229.6 1462.2,230.0 1462.6,230.0 1463.1,228.4 1463.6,228.2 1464.0,228.3 1464.5,229.4 1464.9,227.2 1465.4,230.4 1465.9,228.7 1466.3,228.8 1466.8,230.1 1467.2,230.0 1467.7,227.9 1468.2,228.0 1468.6,229.4 1469.1,228.8 1469.5,228.0 1470.0,227.7 1470.4,226.7 1470.9,227.7 1471.4,227.6 1471.8,227.0 1472.3,228.4 1472.7,227.9 1473.2,228.6 1473.7,228.2 1474.1,227.3 1474.6,226.5 1475.0,228.0 1475.5,227.1 1476.0,229.8 1476.4,226.4 1476.9,228.9 1477.3,226.7 1477.8,227.3 1478.3,227.5 1478.7,231.8 1479.2,227.1 1479.6,228.6 1480.1,229.8 1480.6,228.2 1481.0,228.6 1481.5,229.7 1481.9,228.3 1482.4,229.9 1482.9,230.1 1483.3,226.7 1483.8,229.5 1484.2,227.6 1484.7,228.5 1485.2,229.9 1485.6,228.4 1486.1,226.5 1486.5,231.1 1487.0,227.0 1487.5,230.4 1487.9,231.4 1488.4,230.3 1488.8,229.6 1489.3,229.3 1489.8,229.9 1490.2,232.3 1490.7,231.1 1491.1,228.8 1491.6,231.5 1492.1,232.5 1492.5,231.5 1493.0,229.6 1493.4,229.8 1493.9,230.7 1494.3,230.5 1494.8,232.8 1495.3,230.7 1495.7,233.0 1496.2,232.8 1496.6,232.8 1497.1,233.7 1497.6,230.8 1498.0,231.0 1498.5,234.3 1498.9,231.8 1499.4,232.8 1499.9,232.2 1500.3,232.4 1500.8,232.4 1501.2,232.3 1501.7,233.3 1502.2,230.4 1502.6,234.0 1503.1,234.8 1503.5,232.5 1504.0,235.5 1504.5,233.2 1504.9,234.2 1505.4,233.2 1505.8,233.7 1506.3,231.8 1506.8,233.1 1507.2,232.2 1507.7,232.1 1508.1,231.7 1508.6,233.6 1509.1,233.8 1509.5,232.9 1510.0,234.6 1510.4,230.5 1510.9,234.9 1511.4,235.7 1511.8,237.7 1512.3,235.0 1512.7,235.8 1513.2,233.9 1513.7,235.3 1514.1,233.4 1514.6,235.0 1515.0,235.7 1515.5,237.0 1516.0,234.5 1516.4,236.0 1516.9,237.0 1517.3,236.7 1517.8,234.0 1518.2,237.9 1518.7,234.8 1519.2,234.5 1519.6,235.6 1520.1,236.5 1520.5,234.4 1521.0,235.4 1521.5,239.5 1521.9,235.0 1522.4,235.9 1522.8,237.5 1523.3,234.3 1523.8,236.6 1524.2,236.9 1524.7,235.0 1525.1,233.2 1525.6,237.7 1526.1,238.0 1526.5,236.3 1527.0,234.4 1527.4,236.9 1527.9,235.9 1528.4,236.7 1528.8,236.1 1529.3,235.7 1529.7,235.4 1530.2,236.4 1530.7,236.0 1531.1,236.4 1531.6,238.8 1532.0,237.9 1532.5,237.4 1533.0,237.3 1533.4,238.5 1533.9,237.8 1534.3,237.8 1534.8,235.5 1535.3,237.2 1535.7,236.3 1536.2,236.7 1536.6,237.5 1537.1,236.5 1537.6,236.7 1538.0,238.5 1538.5,238.5 1538.9,238.6 1539.4,238.3 1539.9,236.4 1540.3,237.0 1540.8,236.5 1541.2,237.2 1541.7,238.1 1542.1,236.0 1542.6,238.9 1543.1,236.4 1543.5,238.3 1544.0,238.4 1544.4,238.2 1544.9,237.3 1545.4,237.9 1545.8,235.7 1546.3,238.8 1546.7,238.2 1547.2,239.3 1547.7,237.9 1548.1,236.8 1548.6,238.4 1549.0,239.8 1549.5,239.1 1550.0,238.2 1550.4,236.9 1550.9,240.2 1551.3,237.6 1551.8,239.7 1552.3,240.1 1552.7,238.5 1553.2,236.3 1553.6,241.5 1554.1,238.1 1554.6,239.2 1555.0,237.9 1555.5,241.3 1555.9,239.9 1556.4,241.2 1556.9,240.9 1557.3,238.5 1557.8,238.6 1558.2,236.9 1558.7,237.5 1559.2,240.7 1559.6,241.7 1560.1,240.8 1560.5,238.5 1561.0,239.1 1561.5,239.4 1561.9,239.0 1562.4,238.4 1562.8,237.5 1563.3,240.5 1563.8,239.2 1564.2,240.8 1564.7,240.4 1565.1,239.2 1565.6,239.4 1566.0,239.1 1566.5,239.3 1567.0,239.0 1567.4,239.2 1567.9,239.9 1568.3,238.4 1568.8,237.7 1569.3,240.1 1569.7,237.7 1570.2,240.5 1570.6,238.8 1571.1,239.6 1571.6,241.0 1572.0,240.3 1572.5,237.3 1572.9,238.3 1573.4,239.0 1573.9,239.8 1574.3,241.0 1574.8,240.1 1575.2,240.7 1575.7,240.0 1576.2,241.4 1576.6,240.7 1577.1,238.5 1577.5,238.1 1578.0,241.4 1578.5,242.3 1578.9,239.2 1579.4,241.6 1579.8,241.5 1580.3,240.4 1580.8,241.5 1581.2,240.8 1581.7,239.0 1582.1,241.2 1582.6,240.3 1583.1,241.0 1583.5,241.9 1584.0,239.1 1584.4,240.7 1584.9,243.3 1585.4,240.1 1585.8,239.6 1586.3,240.7 1586.7,237.8 1587.2,242.3 1587.7,243.1 1588.1,240.9 1588.6,239.6 1589.0,239.2 1589.5,240.1 1589.9,238.0 1590.4,240.9 1590.9,241.8 1591.3,240.0 1591.8,241.6 1592.2,238.9 1592.7,242.1 1593.2,239.7 1593.6,241.9 1594.1,240.0 1594.5,242.6 1595.0,242.8 1595.5,241.4 1595.9,240.8 1596.4,240.3 1596.8,243.2 1597.3,241.5 1597.8,240.0 1598.2,242.5 1598.7,243.4 1599.1,241.0 1599.6,241.5 1600.1,242.9 1600.5,241.0 1601.0,240.4 1601.4,242.5 1601.9,239.6 1602.4,241.0 1602.8,239.7 1603.3,240.8 1603.7,240.4 1604.2,240.5 1604.7,241.9 1605.1,239.0 1605.6,242.6 1606.0,242.8 1606.5,241.1 1607.0,240.0 1607.4,240.0 1607.9,241.8 1608.3,241.3 1608.8,241.7 1609.3,243.4 1609.7,242.4 1610.2,240.5 1610.6,240.3 1611.1,242.1 1611.6,241.5 1612.0,240.2 1612.5,242.9 1612.9,242.5 1613.4,242.1 1613.8,242.9 1614.3,239.3 1614.8,241.8 1615.2,241.9 1615.7,241.2 1616.1,241.4 1616.6,241.2 1617.1,241.9 1617.5,241.5 1618.0,240.9 1618.4,242.0 1618.9,241.6 1619.4,242.2 1619.8,239.3 1620.3,242.3 1620.7,241.1 1621.2,242.1 1621.7,242.2 1622.1,241.2 1622.6,241.7 1623.0,241.0 1623.5,243.0" stroke="#000" stroke-width="1.3"/>
<polyline points="1339.0,219.4 1339.5,224.6 1339.9,219.4 1340.4,223.6 1340.8,219.8 1341.3,224.4 1341.8,226.4 1342.2,222.7 1342.7,229.0 1343.1,221.4 1343.6,223.5 1344.1,222.6 1344.5,224.2 1345.0,226.2 1345.4,219.7 1345.9,220.6 1346.4,220.6 1346.8,222.3 1347.3,231.8 1347.7,226.3 1348.2,223.8 1348.7,224.3 1349.1,224.9 1349.6,226.0 1350.0,229.1 1350.5,226.5 1350.9,227.2 1351.4,227.4 1351.9,228.1 1352.3,225.6 1352.8,227.1 1353.2,229.2 1353.7,226.8 1354.2,226.2 1354.6,226.1 1355.1,223.4 1355.5,227.2 1356.0,228.1 1356.5,227.8 1356.9,226.5 1357.4,230.2 1357.8,224.6 1358.3,226.8 1358.8,228.3 1359.2,232.0 1359.7,226.9 1360.1,226.8 1360.6,226.3 1361.1,229.2 1361.5,226.8 1362.0,225.0 1362.4,229.4 1362.9,222.7 1363.4,227.4 1363.8,230.5 1364.3,226.9 1364.7,226.6 1365.2,228.8 1365.7,229.3 1366.1,226.1 1366.6,232.8 1367.0,227.3 1367.5,226.8 1368.0,225.4 1368.4,228.6 1368.9,228.4 1369.3,222.7 1369.8,225.4 1370.3,228.2 1370.7,228.6 1371.2,225.9 1371.6,227.6 1372.1,225.4 1372.6,223.3 1373.0,229.7 1373.5,225.1 1373.9,226.5 1374.4,231.1 1374.8,224.1 1375.3,229.1 1375.8,222.0 1376.2,221.8 1376.7,228.1 1377.1,224.9 1377.6,224.9 1378.1,226.5 1378.5,222.8 1379.0,228.6 1379.4,221.1 1379.9,226.5 1380.4,222.8 1380.8,221.5 1381.3,227.0 1381.7,228.8 1382.2,223.5 1382.7,223.4 1383.1,219.4 1383.6,226.8 1384.0,226.4 1384.5,221.5 1385.0,222.2 1385.4,218.9 1385.9,222.8 1386.3,221.5 1386.8,222.9 1387.3,225.2 1387.7,217.5 1388.2,220.4 1388.6,222.7 1389.1,223.5 1389.6,223.2 1390.0,219.6 1390.5,223.0 1390.9,223.4 1391.4,219.4 1391.9,220.3 1392.3,218.6 1392.8,220.7 1393.2,218.0 1393.7,217.9 1394.2,222.1 1394.6,219.8 1395.1,219.5 1395.5,217.9 1396.0,216.9 1396.5,219.4 1396.9,217.3 1397.4,218.3 1397.8,217.6 1398.3,214.9 1398.7,213.9 1399.2,218.1 1399.7,214.8 1400.1,213.5 1400.6,217.3 1401.0,213.7 1401.5,213.2 1402.0,212.1 1402.4,209.4 1402.9,208.6 1403.3,212.3 1403.8,214.6 1404.3,212.3 1404.7,206.0 1405.2,207.0 1405.6,212.0 1406.1,210.8 1406.6,206.6 1407.0,206.2 1407.5,204.0 1407.9,207.2 1408.4,212.3 1408.9,200.4 1409.3,201.7 1409.8,205.0 1410.2,205.3 1410.7,198.1 1411.2,201.0 1411.6,201.3 1412.1,200.8 1412.5,197.2 1413.0,199.8 1413.5,193.9 1413.9,199.4 1414.4,199.4 1414.8,196.7 1415.3,195.4 1415.8,192.8 1416.2,190.9 1416.7,194.0 1417.1,190.1 1417.6,193.4 1418.1,190.5 1418.5,191.4 1419.0,185.5 1419.4,182.9 1419.9,184.5 1420.4,187.2 1420.8,178.8 1421.3,178.7 1421.7,180.2 1422.2,176.7 1422.6,184.5 1423.1,176.8 1423.6,178.2 1424.0,177.4 1424.5,171.3 1424.9,174.0 1425.4,172.7 1425.9,170.3 1426.3,169.6 1426.8,166.6 1427.2,163.8 1427.7,168.9 1428.2,166.3 1428.6,162.5 1429.1,158.0 1429.5,157.6 1430.0,156.8 1430.5,158.5 1430.9,153.6 1431.4,157.2 1431.8,154.8 1432.3,151.8 1432.8,153.2 1433.2,146.9 1433.7,150.8 1434.1,148.6 1434.6,146.6 1435.1,145.0 1435.5,145.6 1436.0,143.3 1436.4,137.7 1436.9,142.8 1437.4,136.6 1437.8,140.1 1438.3,131.9 1438.7,131.4 1439.2,135.7 1439.7,134.9 1440.1,129.3 1440.6,130.3 1441.0,131.8 1441.5,135.3 1442.0,130.0 1442.4,135.2 1442.9,120.7 1443.3,123.4 1443.8,120.3 1444.3,122.4 1444.7,119.6 1445.2,122.2 1445.6,119.2 1446.1,119.1 1446.5,116.8 1447.0,121.5 1447.5,113.6 1447.9,112.2 1448.4,110.4 1448.8,119.5 1449.3,111.9 1449.8,111.4 1450.2,112.4 1450.7,116.2 1451.1,107.6 1451.6,109.5 1452.1,108.5 1452.5,106.1 1453.0,111.4 1453.4,104.2 1453.9,108.2 1454.4,105.2 1454.8,104.1 1455.3,102.8 1455.7,111.6 1456.2,104.1 1456.7,106.6 1457.1,101.0 1457.6,105.3 1458.0,107.7 1458.5,104.0 1459.0,105.1 1459.4,100.7 1459.9,109.8 1460.3,110.4 1460.8,105.6 1461.3,99.8 1461.7,113.7 1462.2,107.7 1462.6,107.8 1463.1,104.8 1463.6,109.9 1464.0,101.2 1464.5,104.6 1464.9,104.2 1465.4,106.0 1465.9,107.4 1466.3,108.0 1466.8,112.0 1467.2,102.4 1467.7,109.2 1468.2,119.1 1468.6,117.8 1469.1,106.7 1469.5,114.1 1470.0,102.7 1470.4,111.6 1470.9,120.0 1471.4,112.0 1471.8,111.0 1472.3,115.0 1472.7,113.3 1473.2,110.5 1473.7,113.6 1474.1,113.7 1474.6,118.7 1475.0,128.1 1475.5,119.0 1476.0,126.2 1476.4,122.0 1476.9,119.7 1477.3,120.5 1477.8,118.7 1478.3,124.1 1478.7,125.0 1479.2,132.5 1479.6,127.8 1480.1,126.7 1480.6,126.7 1481.0,127.2 1481.5,134.2 1481.9,124.9 1482.4,127.6 1482.9,132.2 1483.3,131.8 1483.8,134.3 1484.2,135.2 1484.7,134.3 1485.2,132.0 1485.6,136.5 1486.1,129.5 1486.5,134.4 1487.0,136.9 1487.5,134.5 1487.9,144.5 1488.4,140.3 1488.8,135.7 1489.3,138.9 1489.8,140.9 1490.2,142.5 1490.7,144.5 1491.1,141.5 1491.6,142.5 1492.1,139.9 1492.5,142.8 1493.0,143.3 1493.4,152.3 1493.9,148.7 1494.3,147.0 1494.8,145.1 1495.3,153.8 1495.7,147.6 1496.2,145.8 1496.6,145.8 1497.1,150.5 1497.6,150.7 1498.0,152.2 1498.5,153.0 1498.9,153.0 1499.4,155.5 1499.9,147.9 1500.3,157.2 1500.8,153.5 1501.2,148.0 1501.7,155.3 1502.2,154.0 1502.6,159.1 1503.1,159.0 1503.5,154.7 1504.0,157.7 1504.5,151.8 1504.9,155.4 1505.4,162.9 1505.8,154.8 1506.3,158.3 1506.8,162.5 1507.2,162.3 1507.7,164.1 1508.1,164.4 1508.6,165.8 1509.1,157.3 1509.5,163.5 1510.0,161.5 1510.4,162.9 1510.9,162.6 1511.4,165.2 1511.8,162.7 1512.3,167.5 1512.7,168.8 1513.2,166.3 1513.7,169.4 1514.1,161.3 1514.6,168.6 1515.0,168.5 1515.5,168.5 1516.0,166.8 1516.4,169.8 1516.9,171.6 1517.3,168.4 1517.8,171.5 1518.2,170.2 1518.7,173.1 1519.2,164.7 1519.6,169.8 1520.1,178.5 1520.5,173.4 1521.0,169.7 1521.5,172.1 1521.9,172.7 1522.4,177.3 1522.8,171.3 1523.3,174.2 1523.8,176.3 1524.2,174.9 1524.7,178.4 1525.1,171.1 1525.6,176.7 1526.1,180.1 1526.5,182.7 1527.0,181.0 1527.4,180.4 1527.9,178.8 1528.4,176.5 1528.8,183.1 1529.3,181.6 1529.7,181.2 1530.2,181.9 1530.7,182.2 1531.1,178.7 1531.6,184.8 1532.0,181.7 1532.5,184.8 1533.0,179.4 1533.4,181.2 1533.9,186.0 1534.3,178.0 1534.8,186.5 1535.3,187.6 1535.7,185.0 1536.2,183.3 1536.6,193.9 1537.1,187.1 1537.6,185.4 1538.0,185.1 1538.5,187.0 1538.9,185.1 1539.4,188.3 1539.9,188.4 1540.3,192.0 1540.8,189.0 1541.2,190.2 1541.7,190.7 1542.1,188.7 1542.6,191.8 1543.1,192.8 1543.5,192.9 1544.0,192.4 1544.4,191.3 1544.9,194.6 1545.4,189.3 1545.8,193.5 1546.3,191.8 1546.7,193.4 1547.2,191.0 1547.7,198.5 1548.1,192.9 1548.6,197.1 1549.0,193.4 1549.5,197.4 1550.0,191.8 1550.4,197.7 1550.9,198.7 1551.3,199.3 1551.8,195.4 1552.3,199.7 1552.7,200.5 1553.2,197.0 1553.6,200.1 1554.1,197.5 1554.6,200.3 1555.0,195.9 1555.5,196.8 1555.9,197.9 1556.4,204.4 1556.9,203.5 1557.3,197.5 1557.8,198.9 1558.2,207.0 1558.7,202.4 1559.2,204.5 1559.6,200.4 1560.1,202.0 1560.5,202.8 1561.0,201.4 1561.5,204.0 1561.9,208.2 1562.4,201.9 1562.8,201.4 1563.3,201.1 1563.8,203.8 1564.2,204.6 1564.7,205.5 1565.1,202.9 1565.6,202.6 1566.0,202.7 1566.5,204.4 1567.0,204.4 1567.4,208.3 1567.9,203.1 1568.3,203.1 1568.8,206.0 1569.3,198.5 1569.7,208.6 1570.2,204.3 1570.6,201.9 1571.1,203.9 1571.6,202.3 1572.0,206.7 1572.5,206.5 1572.9,207.1 1573.4,207.6 1573.9,207.1 1574.3,209.7 1574.8,205.8 1575.2,211.7 1575.7,206.8 1576.2,207.8 1576.6,208.9 1577.1,214.1 1577.5,206.8 1578.0,205.6 1578.5,210.1 1578.9,205.1 1579.4,213.1 1579.8,211.9 1580.3,210.1 1580.8,210.3 1581.2,210.0 1581.7,213.8 1582.1,208.9 1582.6,210.2 1583.1,215.8 1583.5,210.1 1584.0,217.0 1584.4,209.8 1584.9,210.0 1585.4,212.8 1585.8,212.9 1586.3,210.5 1586.7,217.5 1587.2,213.1 1587.7,213.9 1588.1,213.4 1588.6,212.2 1589.0,216.4 1589.5,212.5 1589.9,211.1 1590.4,212.1 1590.9,213.4 1591.3,212.9 1591.8,214.1 1592.2,211.4 1592.7,211.2 1593.2,216.0 1593.6,214.1 1594.1,217.0 1594.5,213.5 1595.0,219.7 1595.5,211.7 1595.9,213.7 1596.4,213.0 1596.8,214.6 1597.3,216.3 1597.8,214.9 1598.2,214.4 1598.7,216.9 1599.1,215.7 1599.6,211.5 1600.1,211.3 1600.5,214.0 1601.0,212.4 1601.4,213.4 1601.9,216.3 1602.4,211.3 1602.8,214.7 1603.3,217.3 1603.7,216.3 1604.2,214.8 1604.7,212.5 1605.1,217.2 1605.6,216.6 1606.0,217.0 1606.5,216.0 1607.0,213.7 1607.4,212.6 1607.9,217.4 1608.3,219.6 1608.8,214.8 1609.3,216.8 1609.7,221.7 1610.2,214.7 1610.6,217.9 1611.1,218.7 1611.6,219.6 1612.0,215.7 1612.5,217.6 1612.9,221.6 1613.4,218.9 1613.8,220.0 1614.3,220.2 1614.8,220.6 1615.2,217.4 1615.7,219.3 1616.1,214.8 1616.6,220.1 1617.1,215.3 1617.5,220.7 1618.0,220.1 1618.4,217.7 1618.9,218.6 1619.4,227.0 1619.8,219.9 1620.3,219.9 1620.7,218.2 1621.2,214.8 1621.7,218.7 1622.1,223.3 1622.6,222.5 1623.0,219.9 1623.5,218.5" stroke="#ff0000" stroke-width="1.5"/>
</g>
<line x1="1458.6" x2="1458.6" y1="85.6" y2="141.5" stroke="#e8111b" stroke-width="3" stroke-dasharray="7.5 4"/>
<rect x="1488.8" y="7.1" width="129.9" height="112.3" fill="#350707"/>
<rect x="1488.8" y="7.1" width="129.9" height="112.3" fill="#000" filter="url(#noiseC)"/>
<clipPath id="cIn"><rect x="1488.8" y="7.1" width="129.9" height="112.3"/></clipPath><g clip-path="url(#cIn)">
<ellipse cx="1570" cy="88" rx="15" ry="14" fill="#8a1c0a" opacity="0.55" filter="url(#bC3)"/>
<path d="M1589.6,28.5 C1587,40 1583.5,56 1578.6,75.5 C1575.5,72.5 1571,70.6 1566,70.6 C1558,70.6 1549,72.5 1541,76.5 C1538,75 1537,72 1538.5,69.5 C1548,62.5 1570,50 1586.5,28.8 C1587.5,27.6 1589.3,27.6 1589.6,28.5 Z" fill="#d85a0c" stroke="#b83c06" stroke-width="5" stroke-linejoin="round" opacity="0.8" filter="url(#bC2)"/>
<path d="M1589.6,28.5 C1587,40 1583.5,56 1578.6,75.5 C1575.5,72.5 1571,70.6 1566,70.6 C1558,70.6 1549,72.5 1541,76.5 C1538,75 1537,72 1538.5,69.5 C1548,62.5 1570,50 1586.5,28.8 C1587.5,27.6 1589.3,27.6 1589.6,28.5 Z" fill="#ffe04a" stroke="#f59418" stroke-width="2" stroke-linejoin="round" filter="url(#bC1)"/>
<path d="M1588,33 C1585.5,46 1582,59 1577.5,71 C1572,67.5 1563,67 1555,68.8 C1550,70 1546,72 1542,72.5 C1556,64 1574,52 1588,33 Z" fill="#fff66e" filter="url(#bC1)"/>
</g>
<rect x="1339" y="1.2" width="284.5" height="246.0" fill="none" stroke="#000" stroke-width="1.8"/>
<path d="M1385.7,247.2v-5 M1445.1,247.2v-3 M1504.5,247.2v-5 M1564.0,247.2v-3 M1623.4,247.2v-5 M1339,31.8h4.5 M1339,185.8h4.5" stroke="#000" stroke-width="1.6" fill="none"/>
<text x="1385.7" y="272.2" font-size="27" fill="#000" text-anchor="middle" textLength="40.0" lengthAdjust="spacing" stroke="#000" stroke-width="0.4" >650</text>
<text x="1504.5" y="272.2" font-size="27" fill="#000" text-anchor="middle" textLength="40.0" lengthAdjust="spacing" stroke="#000" stroke-width="0.4" >700</text>
<text x="1623.4" y="272.2" font-size="27" fill="#000" text-anchor="middle" textLength="40.0" lengthAdjust="spacing" stroke="#000" stroke-width="0.4" >750</text>
<text x="1400.8" y="296.8" font-size="27.5" fill="#000" textLength="181.0" lengthAdjust="spacing" stroke="#000" stroke-width="0.4" >Wavelength (nm)</text>
<g transform="translate(1344.3,108.8) scale(0.88,1)"><text x="0.0" y="0.0" font-size="37" fill="#f01018" textLength="121.5" lengthAdjust="spacing" stroke="#f01018" stroke-width="0.4" >1.83 eV</text></g>
<text x="1563.4" y="189.3" font-size="25" fill="#f01018" textLength="50.0" lengthAdjust="spacing" stroke="#f01018" stroke-width="0.4" >After</text>
<text x="1489.0" y="222.2" font-size="26" fill="#000" textLength="70.6" lengthAdjust="spacing" stroke="#000" stroke-width="0.4" >Before</text>
<text x="1282.6" y="50.0" font-size="43.5" fill="#000" font-weight="bold" >c</text>
<rect x="965.7" y="814" width="666.3" height="43" fill="#f0f8fe"/>
<rect x="965.7" y="309.1" width="665.3" height="504.9" fill="url(#bgD)"/>
<rect x="965.7" y="309.1" width="665.3" height="504.9" fill="url(#edgeD)"/>
<line x1="965.7" x2="1631" y1="396.6" y2="396.6" stroke="#000" stroke-width="2.5" stroke-dasharray="4.8 3.8"/>
<line x1="965.7" x2="1631" y1="520.9" y2="520.9" stroke="#000" stroke-width="2.5" stroke-dasharray="4.8 3.8"/>
<line x1="965.7" x2="1631" y1="653.4" y2="653.4" stroke="#000" stroke-width="2.5" stroke-dasharray="4.8 3.8"/>
<line x1="965.7" x2="1631" y1="776.4" y2="776.4" stroke="#000" stroke-width="2.5" stroke-dasharray="4.8 3.8"/>
<text x="994.5" y="432.4" font-size="35.5" fill="#000" textLength="65.0" lengthAdjust="spacing" stroke="#000" stroke-width="0.4" >Bulk</text>
<text x="995.2" y="511.6" font-size="35.5" fill="#000" textLength="110.4" lengthAdjust="spacing" stroke="#000" stroke-width="0.4" >Trilayer</text>
<text x="995.2" y="637.8" font-size="35.5" fill="#000" textLength="100.7" lengthAdjust="spacing" stroke="#000" stroke-width="0.4" >Bilayer</text>
<text x="994.8" y="758.5" font-size="35.5" fill="#000" textLength="154.0" lengthAdjust="spacing" stroke="#000" stroke-width="0.4" >Monolayer</text>
<path d="M1013.0,360.0 C1015.0,361.5 1020.5,365.8 1025.0,369.0 C1029.5,372.2 1034.1,376.6 1040.0,379.5 C1045.9,382.4 1053.0,385.0 1060.5,386.5 C1068.0,388.0 1077.1,387.9 1085.0,388.3 C1092.9,388.7 1101.6,388.6 1108.0,388.8 C1114.4,389.0 1119.4,389.0 1123.6,389.5 C1127.8,390.0 1130.0,390.7 1133.0,391.8 C1136.0,392.9 1139.0,394.4 1141.8,396.4 C1144.6,398.4 1147.0,400.7 1150.0,404.0 C1153.0,407.3 1156.3,410.4 1160.0,416.4 C1163.7,422.4 1168.5,431.6 1172.4,440.0 C1176.3,448.4 1180.2,458.5 1183.6,467.0 C1187.0,475.5 1189.8,483.0 1193.0,491.0 C1196.2,499.0 1199.9,507.9 1202.7,515.2 C1205.5,522.5 1207.8,530.0 1210.0,535.0 C1212.2,540.0 1214.0,542.7 1216.0,545.5 C1218.0,548.3 1219.0,549.7 1222.0,551.7 C1225.0,553.7 1229.4,555.9 1234.3,557.7 C1239.2,559.5 1244.5,561.3 1251.3,562.6 C1258.1,563.9 1267.3,564.7 1275.0,565.5 C1282.7,566.3 1289.1,566.8 1297.4,567.6 C1305.7,568.4 1316.9,569.4 1325.0,570.5 C1333.1,571.6 1341.3,572.9 1346.0,574.0 C1350.7,575.1 1351.0,575.9 1353.0,577.0 C1355.0,578.1 1356.2,579.1 1358.0,580.5 C1359.8,581.9 1361.0,581.7 1363.7,585.6 C1366.4,589.5 1370.8,597.9 1374.3,603.7 C1377.8,609.6 1381.4,616.3 1384.9,620.7 C1388.4,625.1 1392.0,627.9 1395.5,630.2 C1399.0,632.5 1400.8,633.0 1406.1,634.5 C1411.4,636.0 1420.3,638.2 1427.4,639.3 C1434.5,640.4 1441.5,640.4 1448.6,641.0 C1455.7,641.6 1464.5,642.3 1469.8,643.0 C1475.1,643.7 1477.7,644.5 1480.4,645.2 C1483.1,645.9 1484.2,646.3 1486.0,647.2 C1487.8,648.1 1489.2,648.9 1491.0,650.4 C1492.8,651.9 1494.7,654.0 1496.5,656.5 C1498.3,659.0 1499.1,659.9 1501.7,665.2 C1504.3,670.6 1508.8,680.1 1512.3,688.6 C1515.8,697.1 1519.9,708.8 1522.9,716.2 C1525.9,723.6 1528.1,728.6 1530.3,733.0 C1532.5,737.4 1533.9,740.0 1536.0,742.5 C1538.1,745.0 1540.5,746.5 1543.0,748.0 C1545.5,749.5 1547.6,750.2 1551.3,751.3 C1555.0,752.4 1559.7,753.7 1565.0,754.6 C1570.3,755.5 1576.3,756.4 1583.0,756.9 C1589.7,757.4 1597.0,757.5 1605.0,757.6 C1613.0,757.7 1626.7,757.6 1631.0,757.6" fill="none" stroke="#f0061a" stroke-width="3"/>
<rect x="1005.2" y="351.8" width="16" height="16" fill="#ff0000"/>
<rect x="1052.7" y="380.8" width="16" height="16" fill="#ff0000"/>
<rect x="1100.2" y="380.8" width="16" height="16" fill="#ff0000"/>
<rect x="1147.7" y="380.8" width="16" height="16" fill="#ff0000"/>
<rect x="1195.2" y="511.2" width="16" height="16" fill="#ff0000"/>
<rect x="1242.7" y="554.7" width="16" height="16" fill="#ff0000"/>
<rect x="1290.2" y="554.7" width="16" height="16" fill="#ff0000"/>
<rect x="1337.7" y="569.2" width="16" height="16" fill="#ff0000"/>
<rect x="1385.2" y="641.6" width="16" height="16" fill="#ff0000"/>
<rect x="1432.7" y="619.9" width="16" height="16" fill="#ff0000"/>
<rect x="1480.2" y="627.1" width="16" height="16" fill="#ff0000"/>
<rect x="1527.7" y="735.8" width="16" height="16" fill="#ff0000"/>
<rect x="1575.2" y="750.3" width="16" height="16" fill="#ff0000"/>
<rect x="965.7" y="309.1" width="665.3" height="504.9" fill="none" stroke="#000" stroke-width="2"/>
<path d="M965.7,814v-9 M1013.2,814v-4.5 M1060.7,814v-9 M1108.2,814v-4.5 M1155.7,814v-9 M1203.2,814v-4.5 M1250.7,814v-9 M1298.2,814v-4.5 M1345.7,814v-9 M1393.2,814v-4.5 M1440.7,814v-9 M1488.2,814v-4.5 M1535.7,814v-9 M1583.2,814v-4.5 M1630.7,814v-9 M965.7,309.1h9 M965.7,381.6h4.5 M965.7,454.0h9 M965.7,526.5h4.5 M965.7,598.9h9 M965.7,671.4h4.5 M965.7,743.8h9" stroke="#000" stroke-width="2" fill="none"/>
<text x="965.7" y="849.7" font-size="35.5" fill="#000" text-anchor="middle" stroke="#000" stroke-width="0.4" >0</text>
<text x="1060.7" y="849.7" font-size="35.5" fill="#000" text-anchor="middle" stroke="#000" stroke-width="0.4" >2</text>
<text x="1155.7" y="849.7" font-size="35.5" fill="#000" text-anchor="middle" stroke="#000" stroke-width="0.4" >4</text>
<text x="1250.7" y="849.7" font-size="35.5" fill="#000" text-anchor="middle" stroke="#000" stroke-width="0.4" >6</text>
<text x="1345.7" y="849.7" font-size="35.5" fill="#000" text-anchor="middle" stroke="#000" stroke-width="0.4" >8</text>
<text x="1440.7" y="849.7" font-size="35.5" fill="#000" text-anchor="middle" textLength="36.5" lengthAdjust="spacing" stroke="#000" stroke-width="0.4" >10</text>
<text x="1535.7" y="849.7" font-size="35.5" fill="#000" text-anchor="middle" textLength="36.5" lengthAdjust="spacing" stroke="#000" stroke-width="0.4" >12</text>
<text x="1630.7" y="849.7" font-size="35.5" fill="#000" text-anchor="middle" textLength="36.5" lengthAdjust="spacing" stroke="#000" stroke-width="0.4" >14</text>
<text x="958.0" y="321.7" font-size="35.5" fill="#000" text-anchor="end" textLength="38.5" lengthAdjust="spacing" stroke="#000" stroke-width="0.4" >26</text>
<text x="958.0" y="466.6" font-size="35.5" fill="#000" text-anchor="end" textLength="38.5" lengthAdjust="spacing" stroke="#000" stroke-width="0.4" >24</text>
<text x="958.0" y="611.5" font-size="35.5" fill="#000" text-anchor="end" textLength="38.5" lengthAdjust="spacing" stroke="#000" stroke-width="0.4" >22</text>
<text x="958.0" y="756.4" font-size="35.5" fill="#000" text-anchor="end" textLength="38.5" lengthAdjust="spacing" stroke="#000" stroke-width="0.4" >20</text>
<text x="1150.0" y="892.7" font-size="44.5" fill="#000" textLength="298.6" lengthAdjust="spacing" stroke="#000" stroke-width="0.4" >Number of scans</text>
<g transform="translate(890.3,809.6) rotate(-90)"><text x="-2.5" y="0.0" font-size="44.5" fill="#000" textLength="213.0" lengthAdjust="spacingAndGlyphs" stroke="#000" stroke-width="0.4" >Raman shift</text><g transform="translate(216.6,0) scale(1.18,1)"><text x="0.0" y="0.0" font-size="45.5" fill="#000" stroke="#000" stroke-width="0.4" >(</text></g><text x="232.5" y="0.0" font-size="44.5" fill="#000" font-style="italic" textLength="27.0" lengthAdjust="spacingAndGlyphs" stroke="#000" stroke-width="0.4" >A</text><text x="258.5" y="16.6" font-size="24.5" fill="#000" textLength="26.5" lengthAdjust="spacingAndGlyphs" stroke="#000" stroke-width="0.4" >1g</text><text x="287.3" y="0.0" font-size="44.5" fill="#000" textLength="9.5" lengthAdjust="spacingAndGlyphs" stroke="#000" stroke-width="0.4" >-</text><text x="299.5" y="0.0" font-size="44.5" fill="#000" font-style="italic" textLength="27.5" lengthAdjust="spacingAndGlyphs" stroke="#000" stroke-width="0.4" >E</text><text x="325.3" y="16.6" font-size="24.5" fill="#000" textLength="27.5" lengthAdjust="spacingAndGlyphs" stroke="#000" stroke-width="0.4" >2g</text><g transform="translate(347.4,0) scale(1.18,1)"><text x="0.0" y="0.0" font-size="45.5" fill="#000" stroke="#000" stroke-width="0.4" >)</text></g><g transform="translate(377.2,0) scale(1.18,1)"><text x="0.0" y="0.0" font-size="45.5" fill="#000" stroke="#000" stroke-width="0.4" >(</text></g><text x="396.0" y="0.0" font-size="44.5" fill="#000" textLength="50.0" lengthAdjust="spacingAndGlyphs" stroke="#000" stroke-width="0.4" >cm</text><text x="445.0" y="-22.4" font-size="24.5" fill="#000" textLength="18.0" lengthAdjust="spacingAndGlyphs" stroke="#000" stroke-width="0.4" >-1</text></g>
<text x="861.0" y="319.0" font-size="42" fill="#000" font-weight="bold" >d</text>
</svg></body></html>
